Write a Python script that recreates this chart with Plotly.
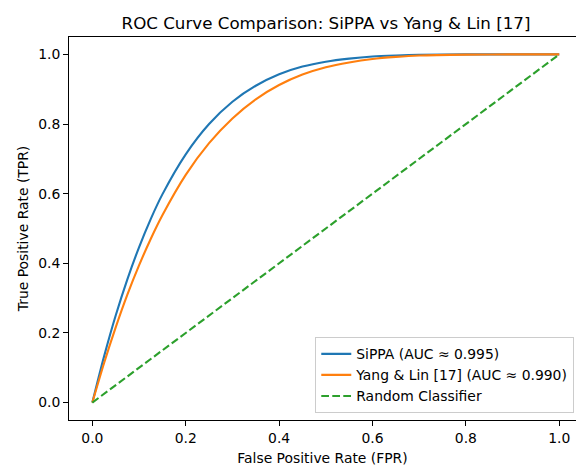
import plotly.graph_objects as go

# Data
fpr = [0.0, 0.025, 0.05, 0.075, 0.1, 0.125, 0.15, 0.2, 0.25, 0.3, 0.35, 0.4,
       0.45, 0.5, 0.55, 0.6, 0.65, 0.7, 0.8, 0.9, 1.0]
tpr_sippa = [0.0, 0.132, 0.250, 0.354, 0.446, 0.527, 0.598, 0.713, 0.800, 0.864,
             0.910, 0.943, 0.965, 0.979, 0.988, 0.994, 0.997, 0.999, 1.0, 1.0, 1.0]
tpr_yang = [0.0, 0.113, 0.216, 0.310, 0.394, 0.470, 0.538, 0.654, 0.745, 0.816,
            0.871, 0.912, 0.942, 0.963, 0.977, 0.987, 0.993, 0.997, 0.9995, 1.0, 1.0]
rand_x = [0.0, 1.0]
rand_y = [0.0, 1.0]

names = ["SiPPA (AUC ≈ 0.995)", "Yang & Lin [17] (AUC ≈ 0.990)", "Random Classifier"]
x_ticks = [0.0, 0.2, 0.4, 0.6, 0.8, 1.0]
y_ticks = [0.0, 0.2, 0.4, 0.6, 0.8, 1.0]

FONT = "DejaVu Sans"
FS = 13.9

fig = go.Figure()
fig.add_trace(go.Scatter(x=fpr, y=tpr_sippa, mode="lines", name=names[0],
                         line=dict(color="#1f77b4", width=2.1, shape="spline", smoothing=0.8),
                         legendgroup="a"))
fig.add_trace(go.Scatter(x=fpr, y=tpr_yang, mode="lines", name=names[1],
                         line=dict(color="#ff7f0e", width=2.1, shape="spline", smoothing=0.8),
                         legendgroup="b"))
fig.add_trace(go.Scatter(x=rand_x, y=rand_y, mode="lines", name=names[2],
                         line=dict(color="#2ca02c", width=2.1, dash="7.7px,3.3px"),
                         legendgroup="c"))

axis_common = dict(
    showgrid=False, zeroline=False, showline=True, linecolor="black", linewidth=1,
    ticks="outside", ticklen=5, tickwidth=1, tickcolor="black",
    tickfont=dict(family=FONT, size=FS, color="black"),
    tickformat=".1f",
)

fig.update_layout(
    width=576, height=466,
    margin=dict(l=69, r=0, t=37, b=46, autoexpand=False),
    paper_bgcolor="white", plot_bgcolor="white",
    title=dict(text="ROC Curve Comparison: SiPPA vs Yang & Lin [17]",
               font=dict(family=FONT, size=16.7, color="black"),
               x=(69 + 583) / 2 / 576, xanchor="center", y=1 - 23 / 466, yanchor="middle"),
    xaxis=dict(**axis_common, range=[-0.05, 1.0359], tickvals=x_ticks, mirror=True,
               title=dict(text="False Positive Rate (FPR)",
                          font=dict(family=FONT, size=FS, color="black"), standoff=8)),
    yaxis=dict(**axis_common, range=[-0.05, 1.05], tickvals=y_ticks,
               title=dict(text="True Positive Rate (TPR)",
                          font=dict(family=FONT, size=FS, color="black"), standoff=6)),
    legend=dict(x=0.9966, xanchor="right", y=0.0175, yanchor="bottom",
                bgcolor="rgba(255,255,255,0.8)", bordercolor="#cccccc", borderwidth=1,
                font=dict(family=FONT, size=FS, color="black"),
                traceorder="grouped", tracegroupgap=0),
    showlegend=True,
)

fig.write_html("out.html", config={"displayModeBar": False},
               post_script="document.body.style.margin='0';")
